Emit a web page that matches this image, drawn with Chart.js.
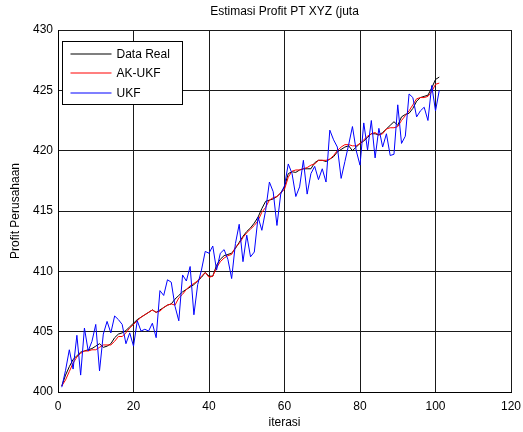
<!DOCTYPE html>
<html lang="id">
<head>
  <meta charset="UTF-8" />
  <title>Estimasi Profit PT XYZ</title>
  <script src="https://cdn.jsdelivr.net/npm/chart.js"></script>
  <style>
    html, body { margin: 0; padding: 0; background: #fff; }
    canvas { display: block; }
  </style>
</head>
<body>
  <canvas id="profitChart" width="523" height="432"></canvas>
  <script>
    // iterasi 1..101
    const iterasi = Array.from({ length: 101 }, (_, k) => k + 1);

    const dataReal = [
      400.5, 401.4, 402.1, 402.7, 403.0, 403.3, 403.4, 403.5, 403.6, 403.8,
      404.0, 403.7, 403.8, 404.0, 404.5, 404.8, 404.9, 405.1, 405.4, 405.7,
      406.0, 406.2, 406.4, 406.6, 406.8, 406.6, 406.8, 407.0, 407.2, 407.3,
      407.7, 408.0, 408.3, 408.5, 408.7, 408.9, 409.2, 409.5, 409.9, 409.6,
      409.6, 410.5, 411.0, 411.3, 411.4, 411.5, 411.9, 412.4, 412.9, 413.3,
      413.6, 414.0, 414.5, 415.2, 415.8, 415.9, 416.0, 416.2, 416.5, 417.0,
      418.1, 418.25, 418.2, 418.4, 418.5, 418.5, 418.5, 419.0, 419.2, 419.2,
      419.1, 419.3, 419.5, 419.9, 420.1, 420.3, 420.4, 420.0, 420.3, 420.6,
      420.8, 421.1, 421.4, 421.4, 421.3, 421.5, 421.8, 422.1, 422.4, 422.1,
      422.8, 423.0, 423.1, 423.5, 424.1, 424.4, 424.5, 424.6, 425.2, 425.9,
      426.1
    ];

    const akUkf = [
      400.5, 401.0, 401.7, 402.4, 402.9, 403.2, 403.4, 403.4, 403.5, 403.5,
      403.7, 403.9, 403.9, 403.9, 404.2, 404.6, 404.6, 404.9, 405.3, 405.6,
      405.9, 406.2, 406.4, 406.6, 406.8, 406.6, 406.7, 407.0, 407.2, 407.3,
      407.2, 407.8, 408.1, 408.5, 408.8, 409.0, 409.2, 409.6, 409.9, 409.5,
      409.6, 410.3, 410.8, 411.1, 411.3, 411.4, 412.0, 412.3, 412.8, 413.2,
      413.5, 413.8, 414.2, 414.9, 415.3, 415.9, 416.1, 416.2, 416.5, 416.8,
      417.8, 418.3, 418.4, 418.4, 418.5, 418.6, 418.8, 418.9, 419.2, 419.2,
      419.2, 419.3, 419.6, 420.0, 420.3, 420.5, 420.5, 420.4, 420.4, 420.6,
      420.9, 421.2, 421.4, 421.5, 421.3, 421.4, 421.8, 421.9, 421.9, 422.0,
      422.5, 422.9, 423.3, 423.8, 424.3, 424.4, 424.4, 424.5, 424.9, 425.5,
      425.6
    ];

    const ukf = [
      400.4, 401.8, 403.5, 401.9, 404.7, 401.4, 405.3, 403.4, 404.2, 405.6,
      401.75, 404.8, 405.85, 404.9, 406.3, 406.0, 405.6, 404.0, 404.9, 403.8,
      405.9, 405.05, 405.2, 405.05, 405.7, 404.5, 408.4, 408.0, 409.3, 409.1,
      407.1, 405.9, 409.7, 409.2, 410.4, 406.4, 408.9, 410.1, 411.65, 411.5,
      412.1, 410.1, 411.5, 411.8, 411.0, 409.4, 412.3, 413.9, 410.8, 413.0,
      411.2, 411.6, 414.5, 413.4, 415.05, 417.4, 416.6, 413.8, 416.4, 417.1,
      418.9, 418.1, 416.2, 417.0, 419.2, 416.4, 418.1, 418.7, 417.6, 418.5,
      417.4, 421.7, 420.9, 420.3, 417.7, 419.1, 420.5, 422.0, 420.0, 418.8,
      422.3, 420.05, 422.5, 419.4, 421.85, 420.3, 421.4, 419.6, 419.7, 423.8,
      420.6, 421.2, 424.7, 424.4, 422.8, 423.3, 423.6, 422.5, 425.4, 423.3,
      425.0
    ];

    const xTicks = [0, 20, 40, 60, 80, 100, 120];
    const yTicks = [400, 405, 410, 415, 420, 425, 430];

    const FONT = "'Liberation Sans', Arial, sans-serif";

    function toPoints(values) {
      return values.map((v, k) => ({ x: iterasi[k], y: v }));
    }

    // title over the axes + MATLAB-like legend box
    const matlabDecor = {
      id: "matlabDecor",
      afterDraw(chart) {
        const { ctx, chartArea } = chart;
        ctx.save();
        ctx.font = "12px " + FONT;
        ctx.fillStyle = "#000";
        ctx.textAlign = "center";
        ctx.textBaseline = "middle";
        ctx.fillText("Estimasi Profit PT XYZ (juta", (chartArea.left + chartArea.right) / 2, 12);

        const bx = chartArea.left + 4.5, by = chartArea.top + 11.5, bw = 120, bh = 63;
        ctx.fillStyle = "#fff";
        ctx.fillRect(bx, by, bw, bh);
        ctx.strokeStyle = "#000";
        ctx.lineWidth = 1;
        ctx.strokeRect(bx, by, bw, bh);

        ctx.textAlign = "left";
        chart.data.datasets.forEach((ds, k) => {
          const yy = Math.round(by + 12 + k * 19.5);
          ctx.strokeStyle = ds.borderColor;
          ctx.lineWidth = 1.2;
          ctx.beginPath();
          ctx.moveTo(bx + 8, yy);
          ctx.lineTo(bx + 49, yy);
          ctx.stroke();
          ctx.fillStyle = "#000";
          ctx.fillText(ds.label, bx + 54, yy + 1);
        });
        ctx.restore();
      }
    };

    new Chart(document.getElementById("profitChart"), {
      type: "line",
      data: {
        datasets: [
          { label: "Data Real", data: toPoints(dataReal), borderColor: "#000000", order: 2 },
          { label: "AK-UKF", data: toPoints(akUkf), borderColor: "#ff0000", order: 1 },
          { label: "UKF", data: toPoints(ukf), borderColor: "#0000ff", order: 0 }
        ]
      },
      options: {
        responsive: false,
        animation: false,
        layout: { padding: { top: 30, right: 12, left: 0, bottom: 0 } },
        elements: {
          line: { borderWidth: 1, tension: 0 },
          point: { radius: 0 }
        },
        plugins: {
          legend: { display: false },
          tooltip: { enabled: false }
        },
        scales: {
          x: {
            type: "linear",
            min: 0,
            max: 120,
            afterBuildTicks: s => { s.ticks = xTicks.map(v => ({ value: v })); },
            afterFit: s => { s.height = 40; s.paddingRight = 0; s.paddingLeft = 0; },
            grid: { color: "#1a1a1a", lineWidth: 1, drawTicks: false },
            border: { color: "#000", width: 1 },
            ticks: { color: "#000", font: { family: FONT, size: 12 }, padding: 7, maxRotation: 0 },
            title: {
              display: true,
              text: "iterasi",
              color: "#000",
              font: { family: FONT, size: 12 },
              padding: { top: 0, bottom: 2 }
            }
          },
          y: {
            min: 400,
            max: 430,
            afterBuildTicks: s => { s.ticks = yTicks.map(v => ({ value: v })); },
            afterFit: s => { s.width = 58; },
            grid: { color: "#1a1a1a", lineWidth: 1, drawTicks: false },
            border: { color: "#000", width: 1 },
            ticks: { color: "#000", font: { family: FONT, size: 12 }, padding: 5 },
            title: {
              display: true,
              text: "Profit Perusahaan",
              color: "#000",
              font: { family: FONT, size: 12 },
              padding: { top: 8, bottom: 0 }
            }
          }
        }
      },
      plugins: [matlabDecor]
    });
  </script>
</body>
</html>
